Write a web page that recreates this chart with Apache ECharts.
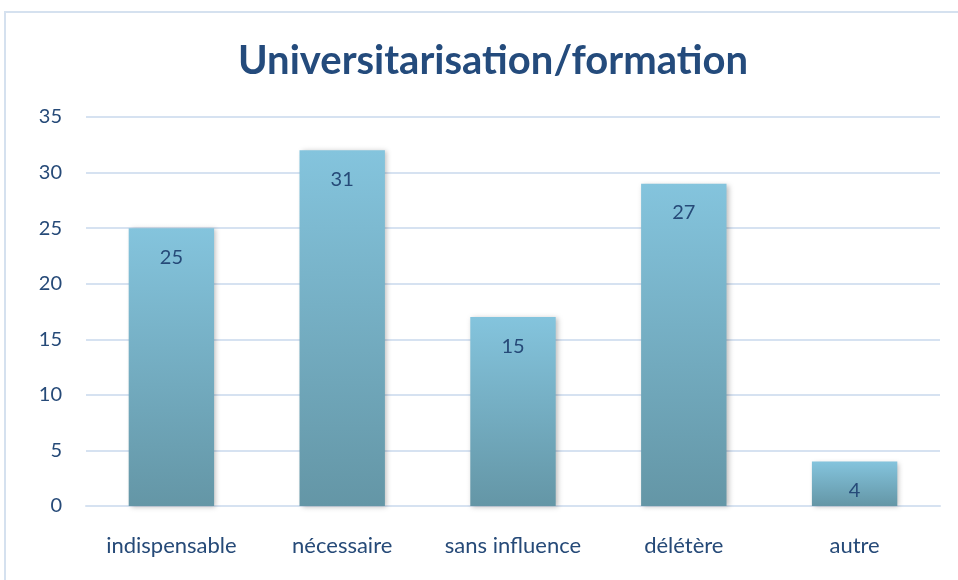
<!DOCTYPE html>
<html>
<head>
<meta charset="utf-8">
<script src="https://cdn.jsdelivr.net/npm/echarts@6/dist/echarts.min.js"></script>
<style>
html,body{margin:0;padding:0;background:#fff;}
#main{width:958px;height:580px;}
</style>
</head>
<body>
<div id="main"></div>
<script>
var categories = ["indispensable", "nécessaire", "sans influence", "délétère", "autre"];
// hauteur des barres telle que dessinée
var barValues = [25, 32, 17, 29, 4];
// étiquettes affichées dans les barres
var labelTexts = ["25", "31", "15", "27", "4"];
var yTicks = {min: 0, max: 35, interval: 5};

var textColor = "#264a78";
var gridColor = "#d6e2f1";

var mychart = echarts.init(document.getElementById('main'));

var option = {
	backgroundColor: '#fff',
	title: {
		text: "Universitarisation/formation",
		left: 488,
		textAlign: 'center',
		top: 36,
		textStyle: {
			fontFamily: 'Lato',
			fontWeight: 'bold',
			fontSize: 40,
			color: '#244b7c'
		}
	},
	graphic: [{
		type: 'rect',
		shape: {x: 5, y: 12, width: 1000, height: 600},
		style: {fill: 'none', stroke: '#d5e1ef', lineWidth: 2},
		silent: true
	}],
	grid: {left: 86, right: 18, top: 117, bottom: 74},
	xAxis: {
		type: 'category',
		data: categories,
		axisLine: {lineStyle: {color: gridColor, width: 2}},
		axisTick: {show: false},
		axisLabel: {
			interval: 0,
			hideOverlap: false,
			margin: 29,
			fontFamily: 'Lato',
			fontSize: 22,
			color: textColor
		}
	},
	yAxis: {
		type: 'value',
		min: yTicks.min,
		max: yTicks.max,
		interval: yTicks.interval,
		axisLine: {show: false},
		axisTick: {show: false},
		axisLabel: {
			margin: 24,
			fontFamily: 'Lato',
			fontSize: 20,
			color: textColor
		},
		splitLine: {lineStyle: {color: gridColor, width: 2}}
	},
	series: [{
		type: 'bar',
		data: barValues,
		barCategoryGap: '50%',
		itemStyle: {
			color: new echarts.graphic.LinearGradient(0, 0, 0, 1, [
				{offset: 0, color: '#84c4dd'},
				{offset: 1, color: '#6496a6'}
			]),
			shadowColor: 'rgba(0,0,0,0.25)',
			shadowBlur: 5,
			shadowOffsetX: 2,
			shadowOffsetY: 1
		},
		label: {
			show: true,
			position: 'insideTop',
			distance: 19,
			fontFamily: 'Lato',
			fontSize: 20,
			color: textColor,
			formatter: function (p) {
				return labelTexts[p.dataIndex];
			}
		}
	}]
};
mychart.setOption(option);
</script>
</body>
</html>
